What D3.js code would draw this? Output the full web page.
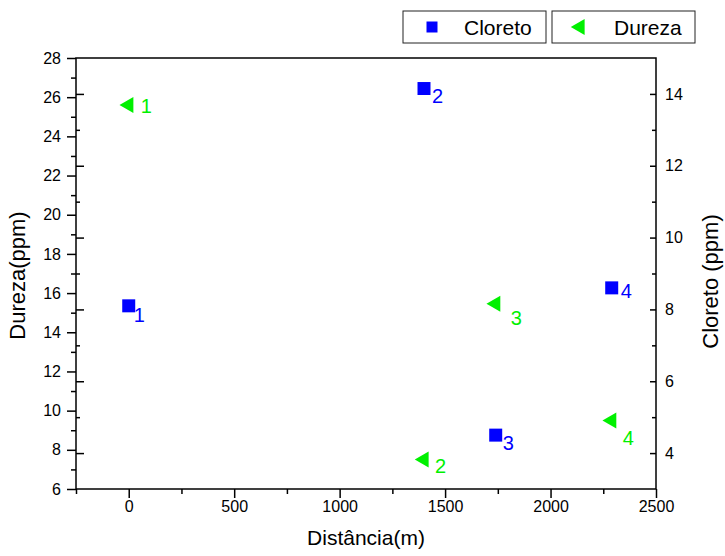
<!DOCTYPE html>
<html>
<head>
<meta charset="utf-8">
<script src="https://cdn.jsdelivr.net/npm/d3@7"></script>
<style>
  body { margin: 0; background: #fff; }
  text { font-family: "Liberation Sans", Arial, sans-serif; }
</style>
</head>
<body>
<div class="js-canvas"></div>
<script>
'use strict';

// data
const distancia = [0, 1400, 1740, 2290];
const dureza = [25.6, 7.5, 15.45, 9.5];
const cloreto = [8.1, 14.15, 4.5, 8.6];
const pointLabels = ['1', '2', '3', '4'];
const seriesNames = ['Cloreto', 'Dureza'];

const xTicks = [0, 500, 1000, 1500, 2000, 2500];
const leftTicks = [6, 8, 10, 12, 14, 16, 18, 20, 22, 24, 26, 28];
const rightTicks = [4, 6, 8, 10, 12, 14];

// hand-placed label offsets (dx, dy from the marker)
const durezaOffsets = [[12, 8], [11, 13], [15, 21], [11, 25]];
const cloretoOffsets = [[5, 16], [8, 14], [7, 15], [9, 10]];

const config = {
    width: 725,
    height: 556,
    plot: { left: 76, right: 656, top: 58, bottom: 489 },
    blue: '#0000ff',
    green: '#00f000'
};
const p = config.plot;

const svg = d3.select('.js-canvas')
    .append('svg')
    .attr('width', config.width)
    .attr('height', config.height);

const x = d3.scaleLinear().domain([-250, 2500]).range([p.left, p.right]);
const yLeft = d3.scaleLinear().domain([6, 28]).range([p.bottom, p.top]);
const yRight = d3.scaleLinear().domain([3, 15]).range([p.bottom, p.top]);

const styleAxis = (g, size) => {
    g.select('.domain').remove();
    g.selectAll('line').attr('stroke', '#000').attr('stroke-width', 1.5);
    g.selectAll('text')
        .attr('fill', '#000')
        .style('font-family', '"Liberation Sans", Arial, sans-serif')
        .style('font-size', size + 'px');
};

const minor = (ticks, step) => ticks.slice(0, -1).map(t => t + step);
const plain = d3.format('d');

// bottom axis
svg.append('g')
    .attr('transform', `translate(0, ${p.bottom})`)
    .call(d3.axisBottom(x).tickValues(xTicks).tickFormat(plain).tickSize(9).tickPadding(3))
    .call(g => styleAxis(g, 16));
svg.append('g')
    .attr('transform', `translate(0, ${p.bottom})`)
    .call(d3.axisBottom(x).tickValues([-250, ...minor(xTicks, 250)]).tickSize(5).tickFormat(''))
    .call(g => styleAxis(g, 16));

// left axis
svg.append('g')
    .attr('transform', `translate(${p.left}, 0)`)
    .call(d3.axisLeft(yLeft).tickValues(leftTicks).tickFormat(plain).tickSize(9).tickPadding(6))
    .call(g => styleAxis(g, 16));
svg.append('g')
    .attr('transform', `translate(${p.left}, 0)`)
    .call(d3.axisLeft(yLeft).tickValues(minor(leftTicks, 1)).tickSize(5).tickFormat(''))
    .call(g => styleAxis(g, 16));
// right-axis ticks mirrored inside the left edge
svg.append('g')
    .attr('transform', `translate(${p.left}, 0)`)
    .call(d3.axisRight(yRight).tickValues(rightTicks).tickSize(8).tickFormat(''))
    .call(g => styleAxis(g, 16));
svg.append('g')
    .attr('transform', `translate(${p.left}, 0)`)
    .call(d3.axisRight(yRight).tickValues(minor(rightTicks, 1)).tickSize(4).tickFormat(''))
    .call(g => styleAxis(g, 16));

// right axis, ticks pointing in
svg.append('g')
    .attr('transform', `translate(${p.right}, 0)`)
    .call(d3.axisRight(yRight).tickValues(rightTicks).tickFormat(plain).tickSize(-6).tickPadding(9))
    .call(g => styleAxis(g, 16));
svg.append('g')
    .attr('transform', `translate(${p.right}, 0)`)
    .call(d3.axisRight(yRight).tickValues(minor(rightTicks, 1)).tickSize(-4).tickFormat(''))
    .call(g => styleAxis(g, 16));

// frame
svg.append('rect')
    .attr('x', p.left)
    .attr('y', p.top)
    .attr('width', p.right - p.left)
    .attr('height', p.bottom - p.top)
    .attr('fill', 'none')
    .attr('stroke', '#000')
    .attr('stroke-width', 1.5);

// axis titles
svg.append('text')
    .attr('x', (p.left + p.right) / 2)
    .attr('y', 545)
    .attr('text-anchor', 'middle')
    .attr('font-size', 21)
    .text('Distância(m)');

svg.append('text')
    .attr('transform', `translate(25, ${(p.top + p.bottom) / 2 + 2}) rotate(-90)`)
    .attr('text-anchor', 'middle')
    .attr('font-size', 22)
    .text('Dureza(ppm)');

svg.append('text')
    .attr('transform', `translate(718, ${(p.top + p.bottom) / 2 + 8}) rotate(-90)`)
    .attr('text-anchor', 'middle')
    .attr('font-size', 22)
    .text('Cloreto (ppm)');

// markers
const square = d3.symbol(d3.symbolSquare, 169);
const triangle = d3.symbol(d3.symbolTriangle, 111);

const cloretoData = distancia.map((d, i) => ({ x: d, y: cloreto[i], label: pointLabels[i], off: cloretoOffsets[i] }));
const durezaData = distancia.map((d, i) => ({ x: d, y: dureza[i], label: pointLabels[i], off: durezaOffsets[i] }));

svg.append('g').selectAll('path')
    .data(cloretoData)
    .enter()
    .append('path')
    .attr('d', square)
    .attr('fill', config.blue)
    .attr('transform', d => `translate(${x(d.x)}, ${yRight(d.y)})`);

svg.append('g').selectAll('path')
    .data(durezaData)
    .enter()
    .append('path')
    .attr('d', triangle)
    .attr('fill', config.green)
    .attr('transform', d => `translate(${x(d.x)}, ${yLeft(d.y)}) rotate(-90)`);

svg.append('g').selectAll('text')
    .data(cloretoData)
    .enter()
    .append('text')
    .attr('x', d => x(d.x) + d.off[0])
    .attr('y', d => yRight(d.y) + d.off[1])
    .attr('font-size', 20)
    .attr('fill', config.blue)
    .text(d => d.label);

svg.append('g').selectAll('text')
    .data(durezaData)
    .enter()
    .append('text')
    .attr('x', d => x(d.x) + d.off[0])
    .attr('y', d => yLeft(d.y) + d.off[1])
    .attr('font-size', 20)
    .attr('fill', config.green)
    .text(d => d.label);

// legend
const legend = svg.append('g').selectAll('g')
    .data(seriesNames)
    .enter()
    .append('g')
    .attr('transform', (d, i) => `translate(${403 + i * 149}, 11)`);

legend.append('rect')
    .attr('width', 143)
    .attr('height', 32)
    .attr('fill', '#fff')
    .attr('stroke', '#222')
    .attr('stroke-width', 1);

legend.append('path')
    .attr('d', (d, i) => i === 0 ? d3.symbol(d3.symbolSquare, 121)() : d3.symbol(d3.symbolTriangle, 111)())
    .attr('fill', (d, i) => i === 0 ? config.blue : config.green)
    .attr('transform', (d, i) => i === 0 ? 'translate(29, 16)' : 'translate(28, 16) rotate(-90)');

legend.append('text')
    .attr('x', (d, i) => i === 0 ? 61 : 62)
    .attr('y', 24)
    .attr('font-size', 21)
    .text(d => d);
</script>
</body>
</html>
